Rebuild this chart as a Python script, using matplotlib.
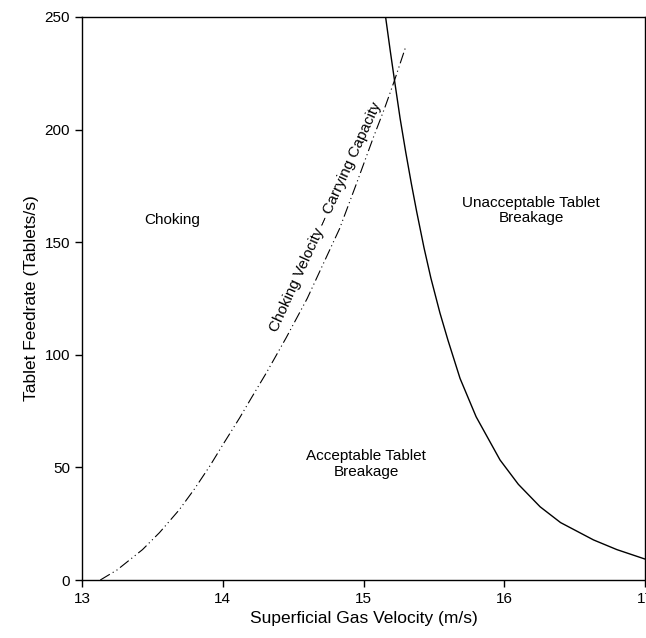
import numpy as np
import matplotlib.pyplot as plt

plt.rcParams['font.family'] = ['Liberation Sans', 'DejaVu Sans']

# Choking velocity - carrying capacity (dash-dot-dot line)
choke_v = [13.13, 13.25, 13.43, 13.55, 13.69, 13.80, 13.91, 14.00, 14.12, 14.20,
           14.31, 14.45, 14.60, 14.70, 14.83, 14.95, 15.07, 15.15, 15.22, 15.30]
choke_f = [0.0, 4.5, 13.5, 21.0, 31.1, 40.5, 50.8, 60.0, 72.0, 80.5,
           92.0, 107.5, 125.0, 138.5, 156.0, 176.0, 196.5, 209.5, 221.8, 236.8]

# Tablet breakage limit (solid line)
break_v = [15.157, 15.19, 15.22, 15.26, 15.30, 15.34, 15.378, 15.43, 15.479, 15.543,
           15.60, 15.686, 15.80, 15.97, 16.10, 16.255, 16.40, 16.634, 16.80, 17.0]
break_f = [250.0, 235.0, 222.0, 205.0, 190.0, 176.0, 163.5, 147.5, 134.0, 118.6,
           106.5, 89.5, 72.5, 53.3, 42.5, 32.5, 25.5, 17.8, 13.5, 9.3]

x_ticks = [13, 14, 15, 16, 17]
y_ticks = [0, 50, 100, 150, 200, 250]

fig = plt.figure(figsize=(6.46, 6.38), dpi=100)
ax = fig.add_axes([82 / 646, 58 / 638, 563 / 646, 563 / 638])

ax.plot(break_v, break_f, color='black', lw=1.0)
ax.plot(choke_v, choke_f, color='black', lw=0.8,
        linestyle=(0, (10, 3, 1, 3, 1, 3)))

ax.set_xlim(13, 17)
ax.set_ylim(0, 250)
ax.set_xticks(x_ticks)
ax.set_yticks(y_ticks)
ax.tick_params(direction='out', length=5, width=1, labelsize=11,
               top=False, right=False)
for s in ax.spines.values():
    s.set_linewidth(1.0)

ax.set_xlabel('Superficial Gas Velocity (m/s)', fontsize=12.5)
ax.set_ylabel('Tablet Feedrate (Tablets/s)', fontsize=12.5)

ax.text(13.64, 160, 'Choking', fontsize=11, ha='center', va='center')
ax.text(15.02, 51.5, 'Acceptable Tablet\nBreakage', fontsize=11,
        ha='center', va='center', linespacing=1.1)
ax.text(16.19, 164, 'Unacceptable Tablet\nBreakage', fontsize=11,
        ha='center', va='center', linespacing=1.1)
ax.text(14.73, 161, 'Choking Velocity \u2013 Carrying Capacity', fontsize=11,
        ha='center', va='center', rotation=65.5, rotation_mode='anchor')

fig.savefig('out.png', dpi=100)
